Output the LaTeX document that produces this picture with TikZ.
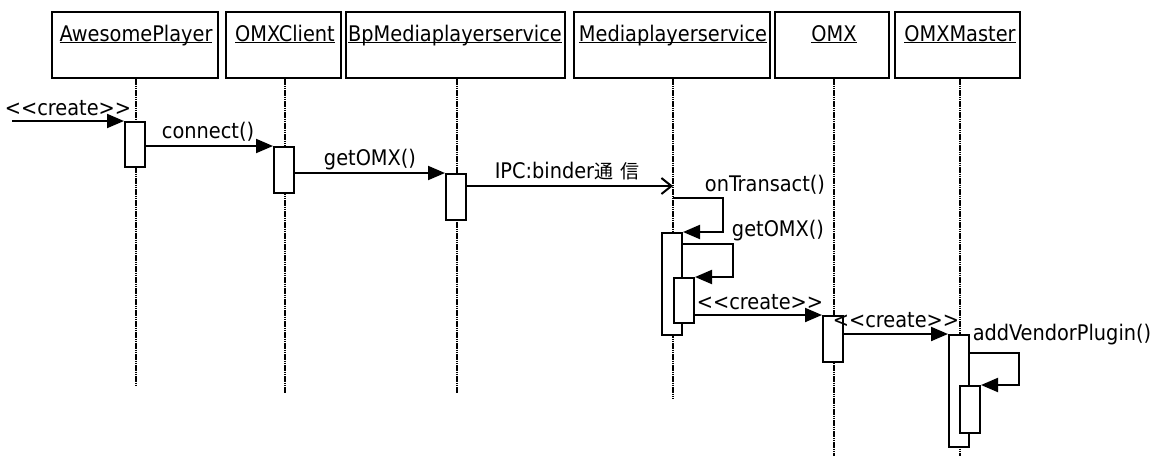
\documentclass[tikz,border=0pt]{standalone}
\usepackage{fontspec}
\setmainfont{DejaVu Sans Condensed}
\newfontfamily\cjk{Noto Sans CJK JP}
\usetikzlibrary{arrows.meta}
\newcommand{\ulname}[1]{\setbox0\hbox{#1}\rlap{\rule[-2.4pt]{\wd0}{1.4pt}}\box0}
\newcommand{\crt}{<{}<{}create>{}>}
\begin{document}
\begin{tikzpicture}[x=1pt,y=-1pt,
  font=\fontsize{21.5}{25}\selectfont,
  head/.style={draw,line width=2pt,minimum height=66pt,inner sep=0pt},
  headname/.style={anchor=base,inner sep=0pt},
  lifeline/.style={line width=2.4pt,dash pattern=on 1.6pt off 0.6pt},
  act/.style={draw,fill=white,line width=2pt,minimum width=20pt,inner sep=0pt},
  msg/.style={line width=2pt,-{Triangle[length=17pt,width=14pt]}},
  async/.style={line width=2pt,-{Straight Barb[length=10pt,width=16pt,line width=2pt]}},
  lbl/.style={inner sep=0pt,anchor=center}]
\useasboundingbox (0,0) rectangle (1151,456);
\fill[white] (0,0) rectangle (1151,456);

% heads
\node[head,minimum width=166pt] (ap) at (135,45) {};
\node[head,minimum width=115pt] (oc) at (283.5,45) {};
\node[head,minimum width=219pt] (bp) at (455.5,45) {};
\node[head,minimum width=196pt] (mp) at (672,45) {};
\node[head,minimum width=114pt] (ox) at (832,45) {};
\node[head,minimum width=125pt] (ms) at (957.5,45) {};
\node[headname] (apn) at (136,41) {\ulname{AwesomePlayer}};
\node[headname] (ocn) at (285,41) {\ulname{OMXClient}};
\node[headname] (bpn) at (455,41) {\ulname{BpMediaplayerservice}};
\node[headname] (mpn) at (673,41) {\ulname{Mediaplayerservice}};
\node[headname] (oxn) at (834,41) {\ulname{OMX}};
\node[headname] (msn) at (960,41) {\ulname{OMXMaster}};

% lifelines
\coordinate (apt) at (136,79); \coordinate (ape) at (136,386);
\coordinate (oct) at (285,79); \coordinate (oce) at (285,393);
\coordinate (bpt) at (457,79); \coordinate (bpe) at (457,393);
\coordinate (mpt) at (673,79); \coordinate (mpe) at (673,399);
\coordinate (oxt) at (834,79); \coordinate (oxe) at (834,456);
\coordinate (mst) at (960,79); \coordinate (mse) at (960,456);
\draw[lifeline] (apt) -- (ape);
\draw[lifeline] (oct) -- (oce);
\draw[lifeline] (bpt) -- (bpe);
\draw[lifeline] (mpt) -- (mpe);
\draw[lifeline] (oxt) -- (oxe);
\draw[lifeline] (mst) -- (mse);

% activations
\node[act,minimum height=45pt,anchor=north west] (a1) at (124,121) {};
\node[act,minimum height=46pt,anchor=north west] (a2) at (273,146) {};
\node[act,minimum height=46pt,anchor=north west] (a3) at (445,173) {};
\node[act,minimum height=102pt,anchor=north west] (a4) at (661,232) {};
\node[act,minimum height=45pt,anchor=north west] (a5) at (673,277) {};
\node[act,minimum height=46pt,anchor=north west] (a6) at (822,315) {};
\node[act,minimum height=112pt,anchor=north west] (a7) at (948,334) {};
\node[act,minimum height=47pt,anchor=north west] (a8) at (959,385) {};

% messages
\coordinate (src) at (12,121);
\draw[msg] (src) -- (a1.north west);
\draw[msg] (a1.east |- a2.north) -- (a2.north west);
\draw[msg] (a2.east |- a3.north) -- (a3.north west);
\coordinate (ipc) at (673,186);
\draw[async] (a3.east |- ipc) -- (ipc);
\coordinate (ot) at (673,198);
\draw[msg] (ot) -- (723,198) -- (723,232) -- (a4.north east);
\draw[msg] (a4.north east |- 0,244) -- (733,244) -- (733,277) -- (a5.north east);
\draw[msg] (a5.east |- a6.north) -- (a6.north west);
\draw[msg] (a6.east |- a7.north) -- (a7.north west);
\draw[msg] (a7.north east |- 0,353) -- (1019,353) -- (1019,385) -- (a8.north east);

% labels
\node[lbl] (l1) at (68,108) {\crt};
\node[lbl] (l2) at (208,132) {connect()};
\node[lbl] (l3) at (370,160) {getOMX()};
\node[lbl] (l4) at (567,171) {IPC:binder{\cjk\fontsize{19}{24}\selectfont 通\hspace{7pt}信}};
\node[lbl] (l5) at (765,185) {onTransact()};
\node[lbl] (l6) at (778,231) {getOMX()};
\node[lbl] (l7) at (760,302) {\crt};
\node[lbl] (l8) at (896,320) {\crt};
\node[lbl] (l9) at (1062,335) {addVendorPlugin()};
\end{tikzpicture}
\end{document}
